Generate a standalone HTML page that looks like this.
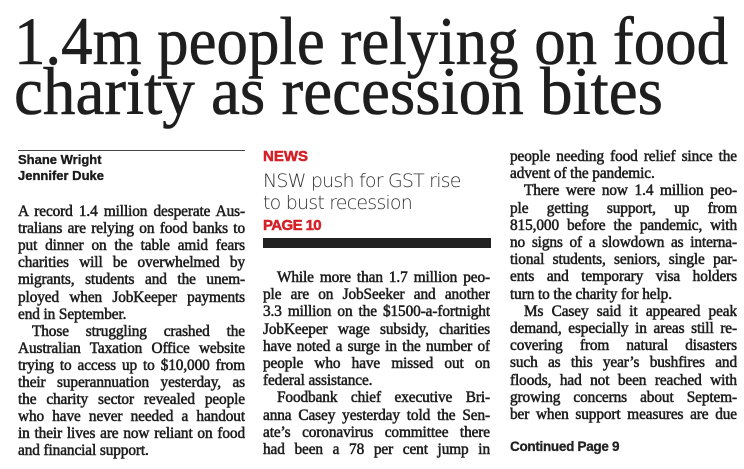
<!DOCTYPE html>
<html><head><meta charset="utf-8"><style>
body{margin:0;background:#fff;width:744px;height:469px;position:relative;overflow:hidden;color:#1e1e1e}
.l{position:absolute;width:227px;height:17.2px;line-height:17.2px;font-family:"Liberation Serif",serif;font-size:15.3px;text-align:justify;text-align-last:justify;overflow:hidden;-webkit-text-stroke:0.55px #1e1e1e;letter-spacing:-0.1px;white-space:normal}
.i{text-indent:14px}
.e{text-align-last:left}
.s{position:absolute;font-family:"Liberation Sans",sans-serif;font-weight:bold}
</style></head><body>
<svg width="744" height="140" style="position:absolute;left:0;top:0">
<text x="14" y="64" font-family="Liberation Serif" font-size="68" textLength="714" lengthAdjust="spacingAndGlyphs" fill="#1e1e1e" stroke="#1e1e1e" stroke-width="0.6">1.4m people relying on food</text>
<text x="14" y="114" font-family="Liberation Serif" font-size="68" textLength="649" lengthAdjust="spacingAndGlyphs" fill="#1e1e1e" stroke="#1e1e1e" stroke-width="0.6">charity as recession bites</text>
</svg>
<div style="position:absolute;left:18px;top:150px;width:227px;height:1px;background:#444"></div>
<div class="s" style="left:18px;top:152px;font-size:13px;line-height:16px;-webkit-text-stroke:0.3px #000">Shane Wright<br>Jennifer Duke</div>

<div class="s" style="left:263px;top:148px;font-size:15px;color:#d42027;-webkit-text-stroke:0.5px #d42027">NEWS</div>
<div style="position:absolute;left:263px;top:170px;font-family:'DejaVu Sans','Liberation Sans',sans-serif;font-weight:300;font-size:19px;line-height:22px;color:#333;letter-spacing:-0.8px">NSW push for GST rise<br>to bust recession</div>
<div class="s" style="left:263px;top:217px;font-size:15px;color:#d42027;letter-spacing:-0.6px;-webkit-text-stroke:0.5px #d42027">PAGE 10</div>
<div style="position:absolute;left:263px;top:238px;width:228px;height:10px;background:#222"></div>

<div style="position:absolute;left:18px;top:203px">
<div class="l" style="top:0">A record 1.4 million desperate Aus-</div>
<div class="l" style="top:17.1px">tralians are relying on food banks to</div>
<div class="l" style="top:34.2px">put dinner on the table amid fears</div>
<div class="l" style="top:51.3px">charities will be overwhelmed by</div>
<div class="l" style="top:68.4px">migrants, students and the unem-</div>
<div class="l" style="top:85.5px">ployed when JobKeeper payments</div>
<div class="l e" style="top:102.6px">end in September.</div>
<div class="l i" style="top:119.7px">Those struggling crashed the</div>
<div class="l" style="top:136.8px">Australian Taxation Office website</div>
<div class="l" style="top:153.9px">trying to access up to $10,000 from</div>
<div class="l" style="top:171px">their superannuation yesterday, as</div>
<div class="l" style="top:188.1px">the charity sector revealed people</div>
<div class="l" style="top:205.2px">who have never needed a handout</div>
<div class="l" style="top:222.3px">in their lives are now reliant on food</div>
<div class="l e" style="top:239.4px">and financial support.</div>
</div>

<div style="position:absolute;left:263px;top:269px">
<div class="l i" style="top:0">While more than 1.7 million peo-</div>
<div class="l" style="top:17.2px">ple are on JobSeeker and another</div>
<div class="l" style="top:34.4px">3.3 million on the $1500-a-fortnight</div>
<div class="l" style="top:51.6px">JobKeeper wage subsidy, charities</div>
<div class="l" style="top:68.8px">have noted a surge in the number of</div>
<div class="l" style="top:86px">people who have missed out on</div>
<div class="l e" style="top:103.2px">federal assistance.</div>
<div class="l i" style="top:120.4px">Foodbank chief executive Bri-</div>
<div class="l" style="top:137.6px">anna Casey yesterday told the Sen-</div>
<div class="l" style="top:154.8px">ate’s coronavirus committee there</div>
<div class="l" style="top:172px">had been a 78 per cent jump in</div>
</div>

<div style="position:absolute;left:510px;top:148px">
<div class="l" style="top:0">people needing food relief since the</div>
<div class="l e" style="top:17.2px">advent of the pandemic.</div>
<div class="l i" style="top:34.4px">There were now 1.4 million peo-</div>
<div class="l" style="top:51.6px">ple getting support, up from</div>
<div class="l" style="top:68.8px">815,000 before the pandemic, with</div>
<div class="l" style="top:86px">no signs of a slowdown as interna-</div>
<div class="l" style="top:103.2px">tional students, seniors, single par-</div>
<div class="l" style="top:120.4px">ents and temporary visa holders</div>
<div class="l e" style="top:137.6px">turn to the charity for help.</div>
<div class="l i" style="top:154.8px">Ms Casey said it appeared peak</div>
<div class="l" style="top:172px">demand, especially in areas still re-</div>
<div class="l" style="top:189.2px">covering from natural disasters</div>
<div class="l" style="top:206.4px">such as this year’s bushfires and</div>
<div class="l" style="top:223.6px">floods, had not been reached with</div>
<div class="l" style="top:240.8px">growing concerns about Septem-</div>
<div class="l" style="top:258px">ber when support measures are due</div>
</div>
<div class="s" style="left:510px;top:439px;font-size:13.5px;letter-spacing:-0.3px;color:#222;-webkit-text-stroke:0.3px #222">Continued Page 9</div>
</body></html>
